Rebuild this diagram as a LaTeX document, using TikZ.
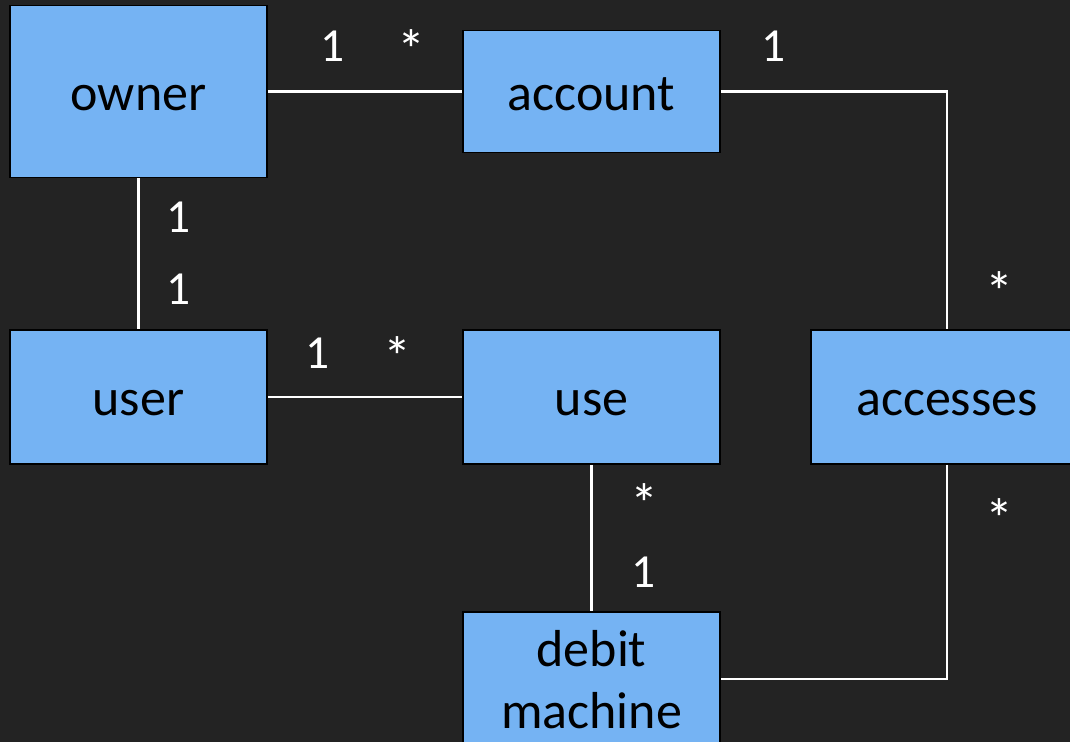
\documentclass[tikz,border=0pt]{standalone}
\usepackage{fontspec}
\setmainfont{Carlito}
\usepackage{tikz}
\usetikzlibrary{positioning,calc}
\definecolor{bgdark}{RGB}{35,35,35}
\definecolor{boxblue}{RGB}{117,179,243}
\tikzset{
  entity/.style={draw=black, line width=1.1pt, fill=boxblue, minimum width=5.14cm, minimum height=2.68cm, align=center, text=black, text height=21.6pt, text depth=0pt, font=\fontsize{29.6}{35.2}\selectfont},
  link/.style={draw=white, line width=1.2pt},
  mult/.style={anchor=base, text=white, inner sep=0pt, font=\fontsize{27}{32}\selectfont},
  many/.style={mult, font=\fontsize{32}{38}\selectfont}
}
\begin{document}
\begin{tikzpicture}[x=0.02cm,y=-0.02cm]
  \fill[bgdark] (0,0) rectangle (1070,742);
  \useasboundingbox (0,0) rectangle (1070,742);
  \node[entity, minimum height=3.44cm] (owner) at (138.5,91.5) {owner};
  \node[entity, minimum height=2.44cm] (account) at (591.5,91.5) {account};
  \node[entity] (user) at (138.5,397) {user};
  \node[entity] (use) at (591.5,397) {use};
  \node[entity, minimum width=5.44cm] (accesses) at (947,397) {accesses};
  \node[entity, text height=55.8pt] (debit) at (591.5,679) {debit\\machine};
  \draw[link] (owner.east) -- (account.west);
  \draw[link] (account.east) -| (accesses.north);
  \draw[link] (owner.south) -- (user.north);
  \draw[link] (user.east) -- (use.west);
  \draw[link] (use.south) -- (debit.north);
  \draw[link] (accesses.south) |- (debit.east);
  \node[mult] (m1) at (333,62) {1};
  \node[many] (m2) at (411,69.5) {*};
  \node[mult] (m3) at (774,62) {1};
  \node[many] (m4) at (999,312) {*};
  \node[mult] (m5) at (179,233) {1};
  \node[mult] (m6) at (179,305) {1};
  \node[mult] (m7) at (318,369) {1};
  \node[many] (m8) at (397,377) {*};
  \node[many] (m9) at (644,523.5) {*};
  \node[mult] (m10) at (644,587) {1};
  \node[many] (m11) at (999,538) {*};
\end{tikzpicture}
\end{document}
